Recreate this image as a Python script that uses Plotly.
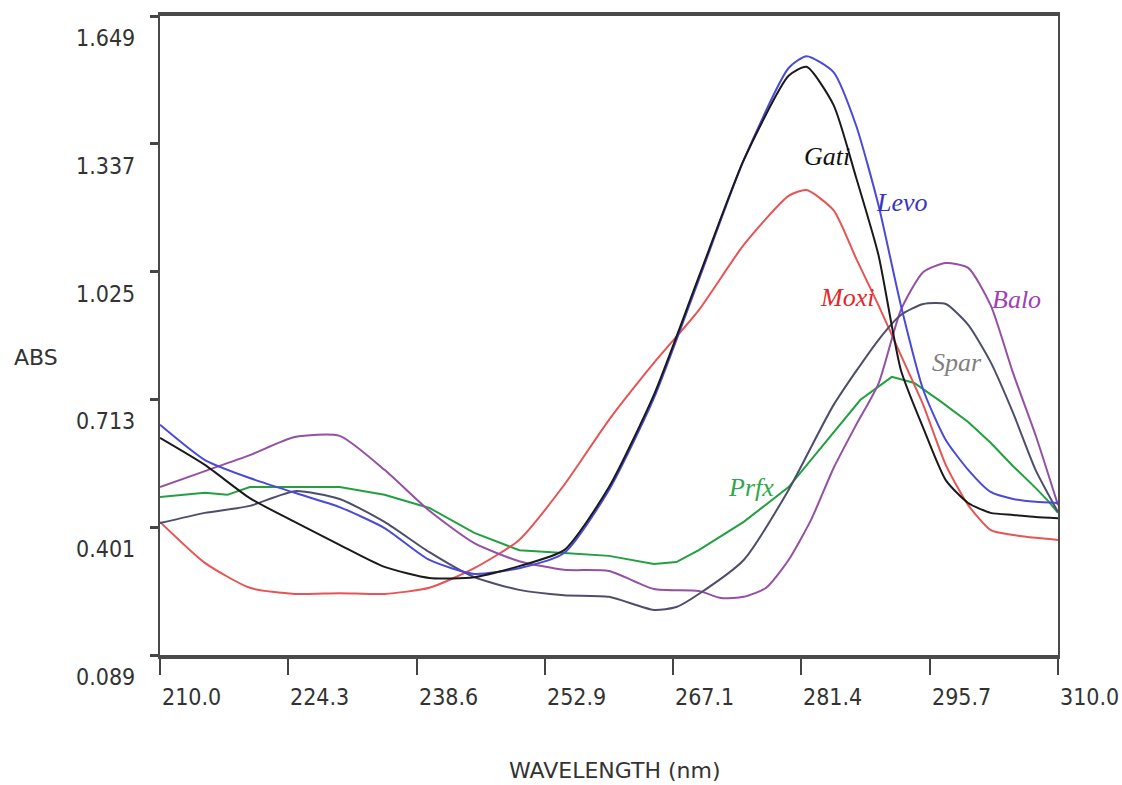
import plotly.graph_objects as go

# UV absorption spectra of six fluoroquinolones
wl_main = [210, 215, 220, 225, 230, 235, 240, 245, 250, 255, 260, 265, 270, 275,
           280, 282, 285, 287.5, 290, 292.5, 295, 297.5, 300, 302.5, 305, 307.5, 310]

gati = [0.619, 0.553, 0.472, 0.414, 0.358, 0.304, 0.277, 0.279, 0.306, 0.345, 0.499,
        0.724, 1.012, 1.297, 1.503, 1.525, 1.432, 1.256, 1.066, 0.785, 0.643, 0.516,
        0.460, 0.436, 0.431, 0.426, 0.423]

levo = [0.651, 0.565, 0.521, 0.485, 0.450, 0.399, 0.321, 0.287, 0.301, 0.338, 0.492,
        0.716, 1.005, 1.297, 1.522, 1.551, 1.512, 1.383, 1.188, 0.943, 0.736, 0.614,
        0.541, 0.487, 0.470, 0.463, 0.460]

moxi = [0.414, 0.314, 0.253, 0.238, 0.240, 0.238, 0.253, 0.301, 0.370, 0.504, 0.663,
        0.802, 0.931, 1.090, 1.210, 1.224, 1.175, 1.058, 0.943, 0.821, 0.699, 0.553,
        0.455, 0.394, 0.382, 0.375, 0.370]

wl_balo = [210, 215, 220, 225, 230, 235, 240, 245, 250, 255, 260, 265, 270, 272.5,
           275, 277.5, 280, 282.5, 285, 287.5, 290, 292.5, 295, 297.5, 300, 302.5,
           305, 307.5, 310]
balo = [0.499, 0.538, 0.577, 0.621, 0.624, 0.541, 0.441, 0.362, 0.318, 0.297, 0.294,
        0.250, 0.245, 0.228, 0.231, 0.253, 0.321, 0.419, 0.545, 0.650, 0.751, 0.931,
        1.024, 1.046, 1.034, 0.943, 0.777, 0.626, 0.455]

wl_spar = [210, 215, 220, 225, 230, 235, 240, 245, 250, 255, 260, 265, 267.5, 270,
           275, 280, 285, 290, 292.5, 295, 297.5, 300, 302.5, 305, 307.5, 310]
spar = [0.411, 0.436, 0.453, 0.489, 0.470, 0.414, 0.340, 0.279, 0.248, 0.235, 0.231,
        0.199, 0.206, 0.238, 0.321, 0.492, 0.699, 0.858, 0.919, 0.946, 0.946, 0.895,
        0.804, 0.680, 0.541, 0.438]

wl_prfx = [210, 212.5, 215, 217.5, 220, 225, 230, 235, 240, 245, 250, 255, 260, 265,
           267.5, 270, 275, 280, 285, 288, 291.5, 294, 297, 300, 302.5, 305, 307.5,
           309, 310]
prfx = [0.475, 0.480, 0.485, 0.480, 0.499, 0.499, 0.499, 0.480, 0.448, 0.387, 0.345,
        0.338, 0.331, 0.311, 0.316, 0.345, 0.414, 0.499, 0.633, 0.712, 0.768, 0.753,
        0.707, 0.658, 0.607, 0.550, 0.497, 0.463, 0.436]

x_ticks = [210.0, 224.3, 238.6, 252.9, 267.1, 281.4, 295.7, 310.0]
y_ticks = [0.089, 0.401, 0.713, 1.025, 1.337, 1.649]

# name, x, y, line colour, label colour, label position (wavelength, abs)
series = [
    ("Prfx", wl_prfx, prfx, "#22a040", "#2ea84a", 275.8, 0.499),
    ("Moxi", wl_main, moxi, "#e65454", "#e02828", 286.5, 0.963),
    ("Balo", wl_balo, balo, "#9450a4", "#a040b4", 305.4, 0.956),
    ("Spar", wl_spar, spar, "#4e4e6c", "#808080", 298.75, 0.804),
    ("Levo", wl_main, levo, "#4a4ad8", "#3434c4", 292.6, 1.193),
    ("Gati", wl_main, gati, "#1a1a1a", "#111111", 284.3, 1.307),
]

fig = go.Figure()
annotations = []
for name, xs, ys, col, lcol, lx, ly in series:
    fig.add_trace(go.Scatter(
        x=xs, y=ys, mode="lines", name=name,
        line=dict(color=col, width=2,
                  shape="linear" if name == "Prfx" else "spline", smoothing=0.6),
        showlegend=False, hoverinfo="x+y+name",
    ))
    annotations.append(dict(
        x=lx, y=ly, xref="x", yref="y", text=name, showarrow=False,
        font=dict(family="Liberation Serif, Times New Roman, serif",
                  size=26, color=lcol, style="italic"),
        xanchor="center", yanchor="middle",
    ))

tick_font = dict(family="DejaVu Sans Condensed, DejaVu Sans, sans-serif",
                 size=23, color="#333333")

for xv in x_ticks:
    annotations.append(dict(
        x=xv, y=0, xref="x", yref="paper", text=f"{xv:.1f}", showarrow=False,
        font=tick_font, xanchor="left", yanchor="middle", yshift=-42, xshift=0,
    ))
for yv in y_ticks:
    annotations.append(dict(
        x=0, y=yv, xref="paper", yref="y", text=f"{yv:.3f}", showarrow=False,
        font=tick_font, xanchor="right", yanchor="middle", xshift=-23, yshift=-22,
    ))

annotations.append(dict(
    x=0, y=0.466, xref="paper", yref="paper", text="ABS", showarrow=False,
    font=dict(family="DejaVu Sans, sans-serif", size=22, color="#333333"),
    xanchor="center", yanchor="middle", xshift=-124,
))
annotations.append(dict(
    x=0.507, y=0, xref="paper", yref="paper", text="WAVELENGTH (nm)", showarrow=False,
    font=dict(family="DejaVu Sans, sans-serif", size=22, color="#333333"),
    xanchor="center", yanchor="middle", yshift=-115,
))

fig.update_layout(
    width=1122, height=785,
    margin=dict(l=160, r=64, t=16, b=130),
    paper_bgcolor="white", plot_bgcolor="white",
    annotations=annotations,
    xaxis=dict(
        range=[210, 310], tickvals=x_ticks, showticklabels=False,
        ticks="outside", ticklen=16, tickwidth=2, tickcolor="#444444",
        showline=True, linewidth=4, linecolor="#4a4a4a", mirror=True,
        showgrid=False, zeroline=False,
    ),
    yaxis=dict(
        range=[0.089, 1.649], tickvals=y_ticks, showticklabels=False,
        ticks="outside", ticklen=8, tickwidth=3, tickcolor="#444444",
        showline=True, linewidth=2, linecolor="#4a4a4a", mirror=True,
        showgrid=False, zeroline=False,
    ),
)

fig.write_html("out.html")
